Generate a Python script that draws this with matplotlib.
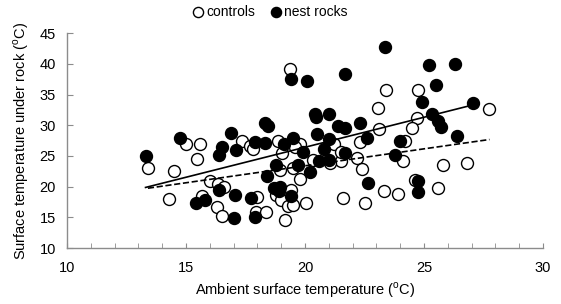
import matplotlib
matplotlib.use('Agg')
from matplotlib import pyplot as plt
from matplotlib.ticker import MultipleLocator
import numpy as np

plt.rcParams['font.family'] = ['Liberation Sans', 'DejaVu Sans']
plt.rcParams['mathtext.fontset'] = 'custom'
plt.rcParams['mathtext.rm'] = 'Liberation Sans'

# nest rocks (filled)
nest_x = [13.3, 14.75, 15.4, 15.8, 16.4, 16.4, 16.5, 16.9, 17.06, 17.1, 17.0, 17.75,
          17.9, 17.9, 18.3, 18.3, 18.45, 18.4, 18.7, 18.8, 18.95, 18.9, 19.1, 19.4,
          19.4, 19.5, 19.7, 19.9, 20.1, 20.2, 20.4, 20.45, 20.5, 20.6, 20.8, 21.0,
          21.0, 21.0, 21.4, 21.7, 21.7, 21.7, 22.3, 22.6, 22.66, 23.36, 23.8, 24.0,
          24.75, 24.75, 24.9, 25.2, 25.35, 25.5, 25.6, 25.7, 26.3, 26.4, 27.07]
nest_y = [25.0, 27.9, 17.3, 17.9, 19.5, 25.2, 26.5, 28.8, 18.6, 26.0, 14.9, 18.2,
          27.2, 15.1, 27.1, 30.4, 29.8, 21.7, 19.7, 23.5, 20.0, 19.3, 27.0, 18.5,
          37.5, 28.0, 23.5, 25.7, 37.2, 22.4, 31.9, 31.4, 28.5, 24.1, 26.1, 31.9,
          27.7, 24.4, 29.8, 29.5, 25.4, 38.3, 30.3, 27.9, 20.6, 42.8, 25.1, 27.4,
          21.0, 19.1, 33.8, 39.8, 31.8, 36.5, 30.7, 29.7, 39.9, 28.2, 33.7]

# controls (open)
ctrl_x = [13.4, 14.3, 14.5, 15.0, 15.6, 15.45, 16.0, 16.35, 16.6, 15.66, 16.3, 16.5,
          17.34, 17.7, 17.8, 18.85, 19.05, 18.95, 18.8, 19.0, 19.4, 19.3, 19.5, 19.16,
          18.0, 17.95, 18.35, 19.5, 19.8, 20.05, 19.7, 19.37, 23.4, 24.76, 23.05, 24.7,
          24.5, 23.1, 27.75, 22.3, 24.2, 24.1, 22.2, 22.4, 25.8, 26.8, 24.6, 25.6,
          23.3, 23.9, 21.6, 22.5, 21.5, 21.05, 20.35, 19.8, 21.2, 21.5, 19.6]
ctrl_y = [23.0, 18.0, 22.5, 26.9, 27.0, 24.5, 21.0, 20.5, 20.0, 18.5, 16.7, 15.3,
          27.4, 26.6, 26.1, 27.5, 25.4, 22.7, 18.6, 17.8, 19.4, 16.9, 17.0, 14.6,
          18.3, 15.8, 15.8, 23.1, 21.3, 17.4, 26.7, 39.2, 35.8, 35.8, 32.8, 31.1,
          29.6, 29.4, 32.6, 27.3, 27.4, 24.2, 24.6, 22.9, 23.6, 23.8, 21.1, 19.7,
          19.3, 18.8, 18.1, 17.4, 24.1, 23.8, 24.3, 27.0, 27.0, 25.7, 26.5]

fig = plt.figure(figsize=(5.61, 3.04), dpi=100)
ax = fig.add_axes([0.1194, 0.184, 0.8486, 0.707])

ax.scatter(ctrl_x, ctrl_y, s=74, facecolors='white', edgecolors='black',
           linewidths=1.0, label='controls', zorder=3)
ax.scatter(nest_x, nest_y, s=74, facecolors='black', edgecolors='black',
           linewidths=1.0, label='nest rocks', zorder=3)

# linear trendlines
for xs, ys, ls in [(nest_x, nest_y, '-'), (ctrl_x, ctrl_y, '--')]:
    xs = np.array(xs)
    k, b = np.polyfit(xs, ys, 1)
    xx = np.array([xs.min(), xs.max()])
    ax.plot(xx, k * xx + b, color='black', linestyle=ls, linewidth=1.2, zorder=4)

ax.set_xlim(10, 30)
ax.set_ylim(10, 45)
ax.xaxis.set_major_locator(MultipleLocator(5))
ax.xaxis.set_minor_locator(MultipleLocator(1))
ax.yaxis.set_major_locator(MultipleLocator(5))

for s in ['top', 'right']:
    ax.spines[s].set_visible(False)
for s in ['left', 'bottom']:
    ax.spines[s].set_color('#8c8c8c')
    ax.spines[s].set_linewidth(1.0)

ax.tick_params(axis='both', which='both', direction='in', color='#8c8c8c', labelsize=10.5)
ax.tick_params(axis='x', which='both', length=3.5, pad=9)
ax.tick_params(axis='y', which='major', length=4, pad=8)

ax.set_xlabel('Ambient surface temperature ($^{\\rm o}$C)', fontsize=10.5, labelpad=4)
ax.set_ylabel('Surface temperature under rock ($^{\\rm o}$C)', fontsize=10.5, labelpad=6)

fig.legend(loc='upper center', bbox_to_anchor=(0.48, 1.025), ncol=2, frameon=False,
           fontsize=10, handlelength=1.0, handletextpad=0.1, columnspacing=1.0,
           markerscale=0.85)

plt.savefig('out.png', dpi=100)
plt.close()
